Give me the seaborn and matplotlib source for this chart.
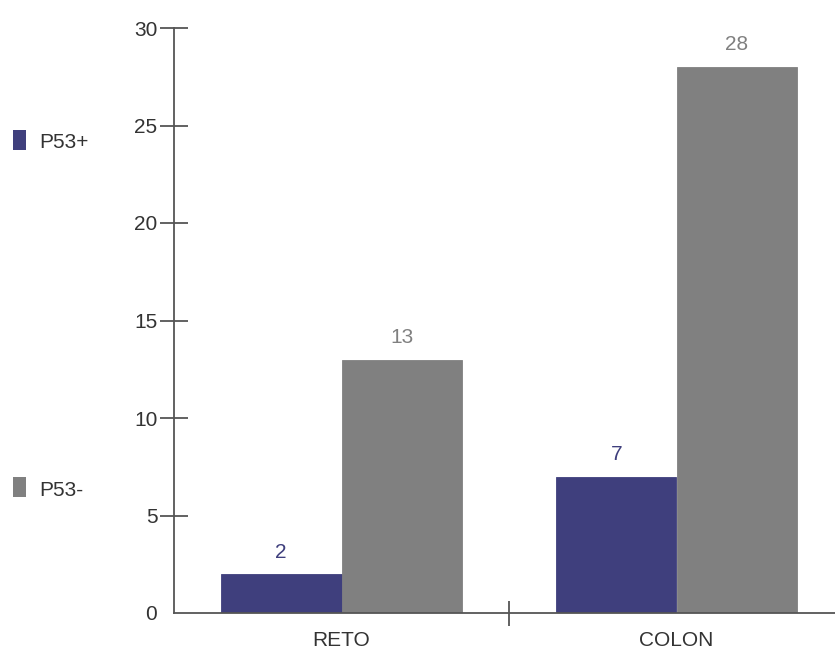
import matplotlib
matplotlib.use("Agg")
import matplotlib.pyplot as plt
import matplotlib.patches as mpatches
import seaborn as sns
import pandas as pd

categories = ["RETO", "COLON"]
series_names = ["P53+", "P53-"]
p53_pos = [2, 7]
p53_neg = [13, 28]
y_ticks = [0, 5, 10, 15, 20, 25, 30]

colors = {"P53+": "#3f3f7d", "P53-": "#808080"}
axis_color = "#555555"
text_color = "#333333"
font_size = 15

sns.set_theme(style="white")
plt.rcParams["font.family"] = ["Liberation Sans", "DejaVu Sans"]

df = pd.DataFrame({
    "cat": categories * 2,
    "series": [series_names[0]] * 2 + [series_names[1]] * 2,
    "value": p53_pos + p53_neg,
})

fig = plt.figure(figsize=(8.35, 6.51), dpi=100)
ax = fig.add_axes([174 / 835, 38 / 651, 1 - 174 / 835, (613 - 28) / 651])

sns.barplot(data=df, x="cat", y="value", hue="series", order=categories,
            hue_order=series_names, palette=colors, width=0.72,
            linewidth=0, saturation=1, errorbar=None, legend=False, ax=ax)

# close the hairline gap between adjacent bars
for patch in ax.patches:
    patch.set_edgecolor(patch.get_facecolor())
    patch.set_linewidth(0.6)

# value labels above bars, coloured like their series
for cont, name in zip(ax.containers, series_names):
    ax.bar_label(cont, labels=[str(int(v)) for v in cont.datavalues],
                 padding=9, color=colors[name], fontsize=font_size)

ax.set_ylim(0, 30)
ax.set_xlim(-0.5, -0.5 + (835 - 174) / 335)
ax.set_xlabel("")
ax.set_ylabel("")

for side in ["top", "right"]:
    ax.spines[side].set_visible(False)
for side in ["left", "bottom"]:
    ax.spines[side].set_color(axis_color)
    ax.spines[side].set_linewidth(1.3)

ax.set_yticks(y_ticks)
ax.set_yticklabels([str(t) for t in y_ticks])
ax.tick_params(axis="y", direction="inout", length=20, width=1.3,
               color=axis_color, labelsize=font_size, labelcolor=text_color,
               pad=2, left=True)
ax.yaxis.get_major_ticks()[0].tick1line.set_visible(False)

ax.set_xticks(range(len(categories)))
ax.set_xticklabels(categories)
ax.tick_params(axis="x", which="major", length=0, labelsize=font_size,
               labelcolor=text_color, pad=13)
ax.set_xticks([0.5], minor=True)
ax.tick_params(axis="x", which="minor", direction="inout", length=18,
               width=1.3, color=axis_color, bottom=True)

# legend drawn at the left margin
legend_items = [(series_names[0], 140), (series_names[1], 487)]
for name, ypix in legend_items:
    fig.patches.append(mpatches.Rectangle(
        (13 / 835, 1 - (ypix + 10) / 651), 13 / 835, 20 / 651,
        transform=fig.transFigure, facecolor=colors[name], edgecolor="none"))
    fig.text(39 / 835, 1 - (ypix + 3) / 651, name, fontsize=font_size,
             color=text_color, va="center", ha="left")

fig.savefig("out.png", dpi=100)
